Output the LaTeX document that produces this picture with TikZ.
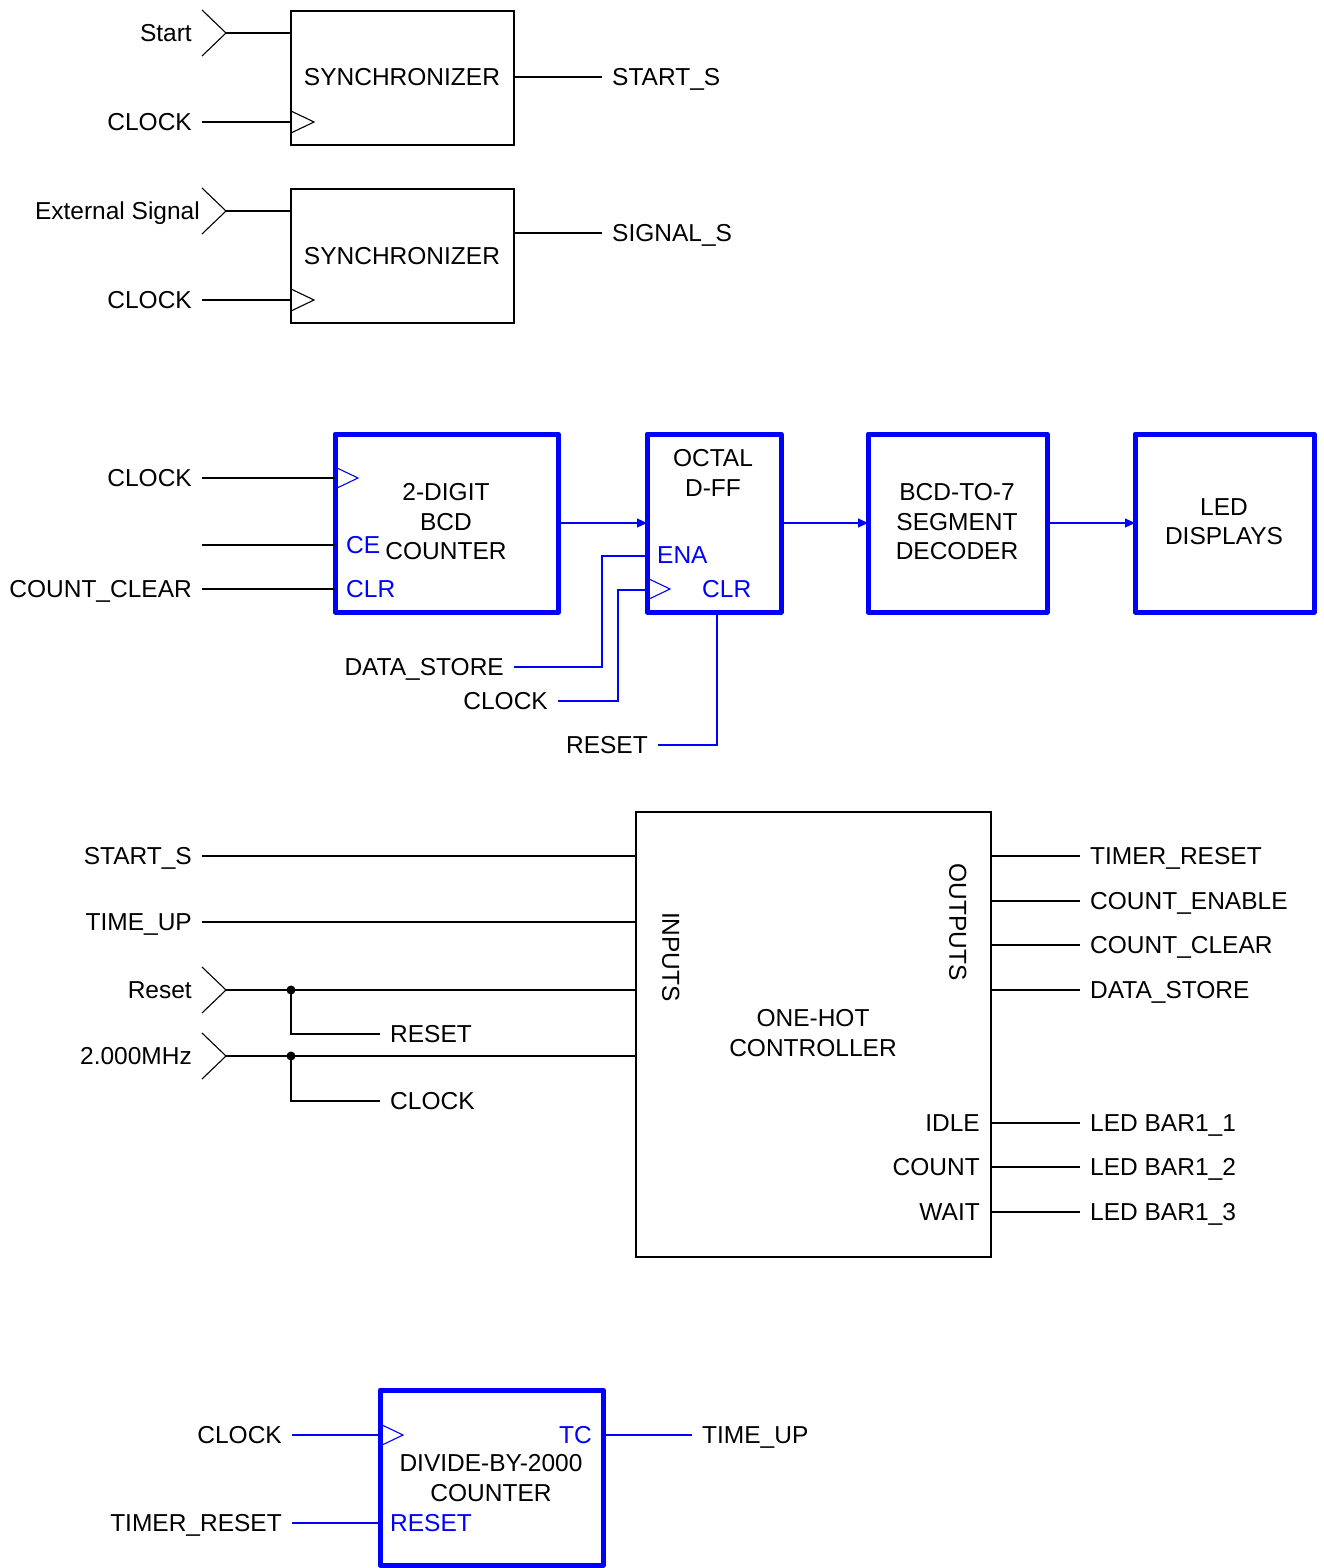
\documentclass[tikz,border=0pt]{standalone}
\usepackage{fontspec}
\setmainfont{Liberation Sans}
\usetikzlibrary{arrows.meta}
\begin{document}
\begin{tikzpicture}[x=1pt,y=-1pt,
  lbl/.style={inner ysep=0pt, inner xsep=0pt, text height=17.5pt, text depth=0pt, font=\fontsize{24.5}{29}\selectfont},
  blbl/.style={lbl, text=blue},
  inl/.style={lbl, anchor=east, inner xsep=10pt},
  outl/.style={lbl, anchor=west, inner xsep=10pt},
  wire/.style={line width=1.1pt, draw=black},
  bwire/.style={line width=1.1pt, draw=blue},
  box/.style={draw=black, line width=1.1pt, inner sep=0pt, outer sep=0pt},
  bbox/.style={draw=blue, line width=5pt, line join=round, inner sep=0pt, outer sep=0pt},
  arr/.style={-{Triangle[length=10pt,width=9pt]}},
  dot/.style={circle, fill=black, inner sep=0pt, minimum size=9pt}
]
\useasboundingbox (0,0) rectangle (1324,1568);

% ---------- Synchronizer 1 ----------
\node[box, minimum width=223pt, minimum height=134pt, anchor=north west] (s1) at (291,11) {};
\node[lbl] (s1t) at (402,77) {SYNCHRONIZER};
\coordinate (stch) at (226,33);
\draw[wire] (202,10) -- (stch) -- (202,56);
\draw[wire] (stch) -- (stch -| s1.west);
\node[inl] (startl) at (202,33) {Start};
\node[inl] (clk1) at (202,122) {CLOCK};
\draw[wire] (clk1.east) -- (clk1.east -| s1.west);
\draw[wire] (s1.west |- 0,111) -- ++(23,11) -- ++(-23,11);
\node[outl] (starts) at (602,77) {START\_S};
\draw[wire] (starts.west -| s1.east) -- (starts.west);

% ---------- Synchronizer 2 ----------
\node[box, minimum width=223pt, minimum height=134pt, anchor=north west] (s2) at (291,189) {};
\node[lbl] (s2t) at (402,256) {SYNCHRONIZER};
\coordinate (exch) at (226,211);
\draw[wire] (202,188) -- (exch) -- (202,234);
\draw[wire] (exch) -- (exch -| s2.west);
\node[lbl, anchor=east] (extl) at (200,211) {External Signal};
\node[inl] (clk2) at (202,300) {CLOCK};
\draw[wire] (clk2.east) -- (clk2.east -| s2.west);
\draw[wire] (s2.west |- 0,289) -- ++(23,11) -- ++(-23,11);
\node[outl] (sigs) at (602,233) {SIGNAL\_S};
\draw[wire] (sigs.west -| s2.east) -- (sigs.west);

% ---------- BCD counter chain ----------
\node[bbox, minimum width=223pt, minimum height=178pt, anchor=north west] (bc) at (335,434) {};
\node[lbl] (bct1) at (446,492) {2-DIGIT};
\node[lbl] (bct2) at (446,522) {BCD};
\node[lbl] (bct3) at (446,551) {COUNTER};
\node[blbl, anchor=west] (bcce) at (346,545) {CE};
\node[blbl, anchor=west] (bcclr) at (346,589) {CLR};
\node[inl] (clk3) at (202,478) {CLOCK};
\draw[wire] (clk3.east) -- (clk3.east -| bc.west);
\draw[bwire] (bc.west |- 0,467) -- ++(23,11) -- ++(-23,11);
\coordinate (ceend) at (202,545);
\draw[wire] (ceend) -- (ceend -| bc.west);
\node[inl] (cclr) at (202,589) {COUNT\_CLEAR};
\draw[wire] (cclr.east) -- (cclr.east -| bc.west);

\node[bbox, minimum width=134pt, minimum height=178pt, anchor=north west] (of) at (647,434) {};
\node[lbl] (oft1) at (713,458) {OCTAL};
\node[lbl] (oft2) at (713,488) {D-FF};
\node[blbl, anchor=west] (ofena) at (657,555) {ENA};
\node[blbl, anchor=west] (ofclr) at (702,589) {CLR};
\draw[bwire] (of.west |- 0,578) -- ++(23,11) -- ++(-23,11);

\node[bbox, minimum width=179pt, minimum height=178pt, anchor=north west] (dec) at (868,434) {};
\node[lbl] (dect1) at (957,492) {BCD-TO-7};
\node[lbl] (dect2) at (957,522) {SEGMENT};
\node[lbl] (dect3) at (957,551) {DECODER};

\node[bbox, minimum width=179pt, minimum height=178pt, anchor=north west] (led) at (1135,434) {};
\node[lbl] (ledt1) at (1224,507) {LED};
\node[lbl] (ledt2) at (1224,536) {DISPLAYS};

\draw[bwire, arr] (bc.east) -- (of.west);
\draw[bwire, arr] (of.east) -- (dec.west);
\draw[bwire, arr] (dec.east) -- (led.west);

\node[inl] (dsl) at (514,667) {DATA\_STORE};
\coordinate (enaturn) at (602,556);
\draw[bwire] (dsl.east) -| (enaturn) -- (enaturn -| of.west);
\node[inl] (clk4) at (558,701) {CLOCK};
\coordinate (clkturn) at (618,590);
\draw[bwire] (clk4.east) -| (clkturn) -- (clkturn -| of.west);
\node[inl] (rstl) at (658,745) {RESET};
\coordinate (ofbot) at (717,612);
\draw[bwire] (rstl.east) -| (ofbot);

% ---------- One-hot controller ----------
\node[box, minimum width=355pt, minimum height=445pt, anchor=north west] (ctl) at (636,812) {};
\node[lbl, rotate=-90] (inp) at (671,957) {INPUTS};
\node[lbl, rotate=-90] (outp) at (958,922) {OUTPUTS};
\node[lbl] (ctlt1) at (813,1018) {ONE-HOT};
\node[lbl] (ctlt2) at (813,1048) {CONTROLLER};

\node[inl] (ssl) at (202,856) {START\_S};
\draw[wire] (ssl.east) -- (ssl.east -| ctl.west);
\node[inl] (tul) at (202,922) {TIME\_UP};
\draw[wire] (tul.east) -- (tul.east -| ctl.west);

\node[inl] (resetl) at (202,990) {Reset};
\coordinate (rch) at (226,990);
\draw[wire] (202,967) -- (rch) -- (202,1013);
\draw[wire] (rch) -- (rch -| ctl.west);
\node[dot] (rdot) at (291,990) {};
\node[outl] (rstb) at (380,1034) {RESET};
\draw[wire] (rdot.center) |- (rstb.west);

\node[inl] (mhzl) at (202,1056) {2.000MHz};
\coordinate (mch) at (226,1056);
\draw[wire] (202,1033) -- (mch) -- (202,1079);
\draw[wire] (mch) -- (mch -| ctl.west);
\node[dot] (mdot) at (291,1056) {};
\node[outl] (clkb) at (380,1101) {CLOCK};
\draw[wire] (mdot.center) |- (clkb.west);

\node[outl] (o1) at (1080,856) {TIMER\_RESET};
\node[outl] (o2) at (1080,901) {COUNT\_ENABLE};
\node[outl] (o3) at (1080,945) {COUNT\_CLEAR};
\node[outl] (o4) at (1080,990) {DATA\_STORE};
\node[outl] (o5) at (1080,1123) {LED BAR1\_1};
\node[outl] (o6) at (1080,1167) {LED BAR1\_2};
\node[outl] (o7) at (1080,1212) {LED BAR1\_3};
\foreach \o in {o1,o2,o3,o4,o5,o6,o7}
  \draw[wire] (\o.west -| ctl.east) -- (\o.west);
\node[lbl, anchor=east] (idle) at (980,1123) {IDLE};
\node[lbl, anchor=east] (cnt) at (980,1167) {COUNT};
\node[lbl, anchor=east] (wait) at (980,1212) {WAIT};

% ---------- Divide-by-2000 counter ----------
\node[bbox, minimum width=223pt, minimum height=175pt, anchor=north west] (dv) at (380,1390) {};
\node[lbl] (dvt1) at (491,1463) {DIVIDE-BY-2000};
\node[lbl] (dvt2) at (491,1493) {COUNTER};
\node[blbl, anchor=east] (tc) at (592,1435) {TC};
\node[blbl, anchor=west] (dvrst) at (390,1523) {RESET};
\draw[bwire] (dv.west |- 0,1424) -- ++(23,11) -- ++(-23,11);
\node[inl] (clk5) at (292,1435) {CLOCK};
\draw[bwire] (clk5.east) -- (clk5.east -| dv.west);
\node[inl] (trl) at (292,1523) {TIMER\_RESET};
\draw[bwire] (trl.east) -- (trl.east -| dv.west);
\node[outl] (tuo) at (692,1435) {TIME\_UP};
\draw[bwire] (tuo.west -| dv.east) -- (tuo.west);
\end{tikzpicture}
\end{document}
